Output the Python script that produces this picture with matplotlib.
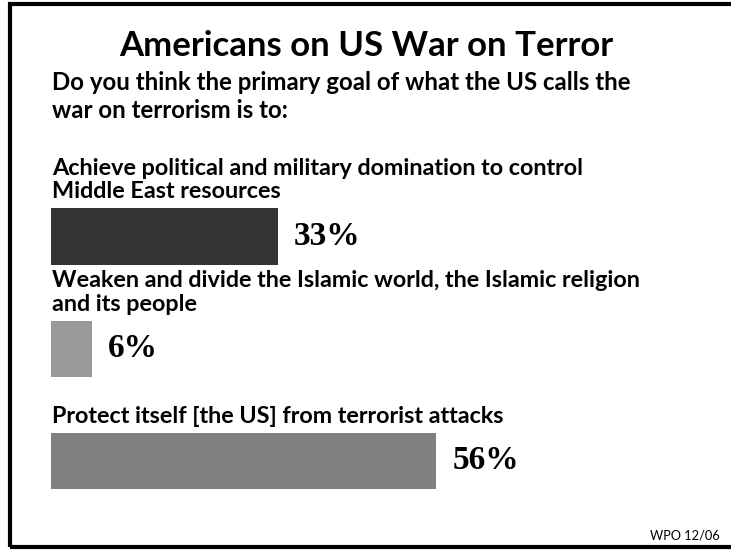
import matplotlib.pyplot as plt
from matplotlib.patches import Rectangle

# survey answers, WPO 12/06
answers = [
    "Achieve political and military domination to control\nMiddle East resources",
    "Weaken and divide the Islamic world, the Islamic religion\nand its people",
    "Protect itself [the US] from terrorist attacks",
]
percents = [33, 6, 56]
bar_colors = ["#333333", "#999999", "#808080"]

title = "Americans on US War on Terror"
question = "Do you think the primary goal of what the US calls the\nwar on terrorism is to:"
source = "WPO 12/06"

W, H = 731, 550
SANS = ["Lato", "DejaVu Sans"]
SERIF = ["Liberation Serif", "DejaVu Serif"]


def px(x, y):
    # pixel position (from top left) -> figure fraction
    return x / W, 1 - y / H


def main():
    fig = plt.figure(figsize=(W / 100, H / 100), dpi=100)
    fig.patch.set_facecolor("white")

    # frame around the slide (right side runs off the picture)
    x0, y0 = px(10, 546.5)
    x1, y1 = px(740, 4)
    fig.patches.append(Rectangle((x0, y0), x1 - x0, y1 - y0, transform=fig.transFigure,
                                 fill=False, edgecolor="black", linewidth=3))

    fig.text(*px(366, 46), title, ha="center", va="center", fontsize=25,
             fontweight="bold", family=SANS)
    fig.text(*px(52, 117.5), question, ha="left", va="baseline", fontsize=17.3,
             fontweight="bold", family=SANS, linespacing=1.25)
    fig.text(*px(720, 539), source, ha="right", va="baseline", fontsize=9.2,
             family=SANS)

    # bar area: one unit of x = 6.88 px, bar rows 112.25 px apart
    scale = 6.88
    left = 51
    xmax = 90
    top, bottom = 180.4, 517.1
    ax = fig.add_axes([left / W, 1 - bottom / H, xmax * scale / W, (bottom - top) / H])
    ax.set_xlim(0, xmax)
    ax.set_ylim(2.5, -0.5)
    ax.axis("off")

    ypos = list(range(len(percents)))
    ax.barh(ypos, percents, height=0.5, color=bar_colors, align="center")

    gap = 10 / (bottom - top) * 3  # ~10 px above the bar, in data units
    for i, (lab, val) in enumerate(zip(answers, percents)):
        ax.text(0.1, i - 0.25 - gap, lab, ha="left", va="baseline", fontsize=16.8,
                fontweight="bold", family=SANS, linespacing=1.16)
        ax.annotate(f"{val}%", (val, i), xytext=(11.5, 0), textcoords="offset points",
                    ha="left", va="center", fontsize=24, fontweight="bold",
                    family=SERIF)

    fig.savefig("out.png", dpi=100, facecolor="white")


main()
